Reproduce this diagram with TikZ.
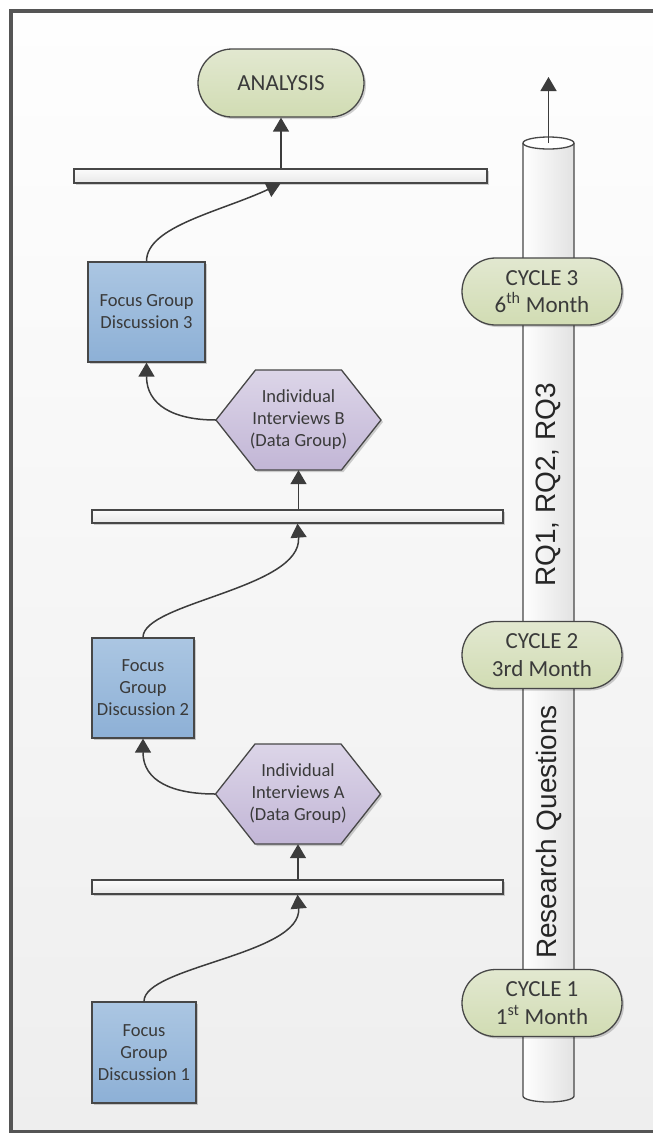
\documentclass[tikz,border=0pt]{standalone}
\usepackage{fontspec}
\setmainfont{Carlito}
\newfontfamily\rqfont{Liberation Sans}
\usetikzlibrary{shapes.misc,arrows.meta,shadows,calc}
\definecolor{linec}{HTML}{474747}
\definecolor{arrc}{HTML}{3C3C3C}
\definecolor{textc}{HTML}{3A3A3A}
\definecolor{pilltop}{HTML}{E2E8D0}
\definecolor{pillbot}{HTML}{D1DCB3}
\definecolor{boxtop}{HTML}{ABC6E2}
\definecolor{boxbot}{HTML}{8DB0D6}
\definecolor{hextop}{HTML}{DCD5E8}
\definecolor{hexbot}{HTML}{C2B6D6}
\definecolor{bartop}{HTML}{FBFBFB}
\definecolor{barbot}{HTML}{E8E8E8}
\definecolor{bgtop}{HTML}{FEFEFE}
\definecolor{bgbot}{HTML}{EEEEEE}
\definecolor{framec}{HTML}{555555}
\definecolor{cylright}{HTML}{E2E2E2}
\tikzset{
 shadowy/.style={drop shadow={shadow xshift=2pt,shadow yshift=-2pt,opacity=0.18,fill=black}},
 pill/.style={rounded rectangle, draw=linec, line width=1.3pt, top color=pilltop, bottom color=pillbot, text=textc, font=\fontsize{23}{27.5}\selectfont, align=center, inner sep=0pt, shadowy},
 fgd/.style={rectangle, draw=linec, line width=1.3pt, top color=boxtop, bottom color=boxbot, text=textc, font=\fontsize{18.5}{22}\selectfont, align=center, inner sep=0pt, minimum height=100pt, shadowy},
 hexlabel/.style={rectangle, draw=none, text=textc, font=\fontsize{18.5}{22}\selectfont, align=center, inner sep=0pt, minimum width=165pt, minimum height=100pt},
 hexshape/.style={draw=linec, line width=1.3pt, top color=hextop, bottom color=hexbot, shadowy},
 barbox/.style={rectangle, draw=linec, line width=1.3pt, top color=bartop, bottom color=barbot, inner sep=0pt, minimum height=14pt, shadowy},
 conn/.style={draw=arrc, line width=1.5pt, -{Triangle[length=14pt,width=16pt]}},
 rqtext/.style={font=\rqfont\fontsize{28}{32}\selectfont, text=black!85, inner sep=0pt},
 cylline/.style={draw=linec, line width=1.3pt},
}
\begin{document}
\begin{tikzpicture}[x=1pt,y=1pt]
\useasboundingbox (0,0) rectangle (653,-1133);
\fill[white] (0,0) rectangle (653,-1133);
\shade[top color=bgtop,bottom color=bgbot] (11,-11) rectangle (690,-1132);
\draw[framec, line width=4pt] (11,-11) rectangle (690,-1132);

% cylinder
\shade[left color=white, right color=cylright] (523,-143) -- (523,-1096) arc[start angle=180,end angle=360,x radius=25.5,y radius=6] -- (574,-143) -- cycle;
\draw[cylline] (523,-143) -- (523,-1096) arc[start angle=180,end angle=360,x radius=25.5,y radius=6] -- (574,-143);
\draw[cylline, fill=white] (548.5,-143) ellipse[x radius=25.5,y radius=6];
\coordinate (cyltop) at (548.5,-143);
\coordinate (cyltip) at (548.5,-77);
\node[rqtext, rotate=90] (rq) at (548.5,-485) {RQ1, RQ2, RQ3};
\node[rqtext, rotate=90] (resq) at (548.5,-832) {Research Questions};

% left column
\node[pill, minimum width=166pt, minimum height=68pt] (analysis) at (281,-83) {ANALYSIS};
\node[barbox, minimum width=413pt] (bar1) at (280.5,-176) {};
\node[fgd, minimum width=117pt] (fgd3) at (146.5,-312) {Focus Group\\Discussion 3};
\path[hexshape, shift={(298.5,-420)}] (-82.5,0) -- (-43,50) -- (43,50) -- (82.5,0) -- (43,-50) -- (-43,-50) -- cycle;
\node[hexlabel] (hexB) at (298.5,-420) {Individual\\Interviews B\\(Data Group)};
\node[barbox, minimum width=411pt, minimum height=13pt] (bar2) at (297.5,-516.5) {};
\node[fgd, minimum width=102pt] (fgd2) at (143,-688) {Focus\\Group\\Discussion 2};
\path[hexshape, shift={(298,-794)}] (-82.5,0) -- (-43,50) -- (43,50) -- (82.5,0) -- (43,-50) -- (-43,-50) -- cycle;
\node[hexlabel] (hexA) at (298,-794) {Individual\\Interviews A\\(Data Group)};
\node[barbox, minimum width=411pt] (bar3) at (297.5,-887) {};
\node[fgd, minimum width=104pt, minimum height=101pt] (fgd1) at (144,-1052.5) {Focus\\Group\\Discussion 1};

% cycle pills
\node[pill, minimum width=160pt, minimum height=67pt] (c3) at (542,-291.5) {CYCLE 3\\6\textsuperscript{th} Month};
\node[pill, minimum width=160pt, minimum height=67pt] (c2) at (542,-655) {CYCLE 2\\3rd Month};
\node[pill, minimum width=160pt, minimum height=67pt] (c1) at (542,-1003) {CYCLE 1\\1\textsuperscript{st} Month};

% connectors
\draw[conn] (analysis.south |- bar1.north) -- (analysis.south);
\draw[conn] (fgd3.north) .. controls +(0,35) and +(-60,-28) .. (bar1.south);
\draw[conn] (hexB.west) to[out=180,in=-90,looseness=1.2] (fgd3.south);
\draw[conn] (hexB.south |- bar2.north) -- (hexB.south);
\draw[conn] (fgd2.north) .. controls +(0,35) and +(5,-65) .. (bar2.south);
\draw[conn] (hexA.west) to[out=180,in=-90,looseness=1.2] (fgd2.south);
\draw[conn] (hexA.south |- bar3.north) -- (hexA.south);
\draw[conn] (fgd1.north) .. controls +(0,35) and +(5,-60) .. (bar3.south);
\draw[conn] (cyltop) -- (cyltip);
\end{tikzpicture}
\end{document}
